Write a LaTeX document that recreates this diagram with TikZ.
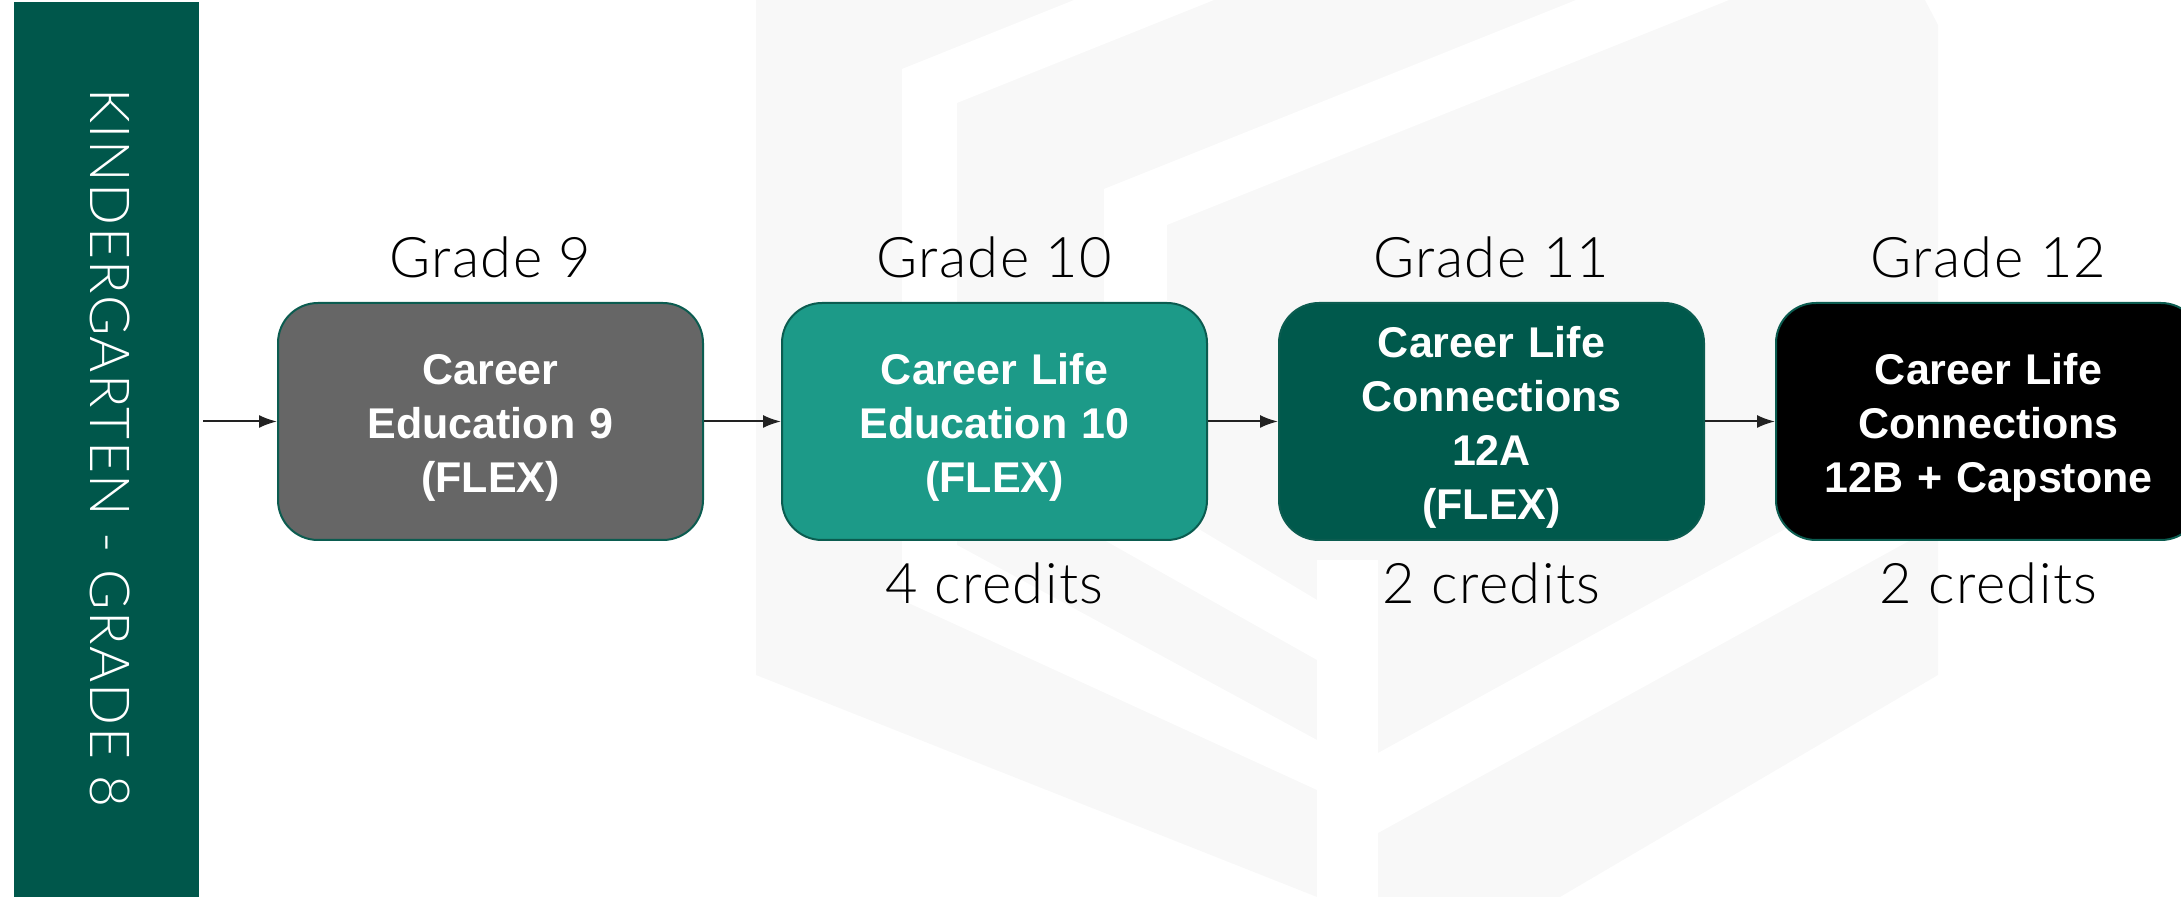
\documentclass[tikz,border=0pt]{standalone}
\usepackage{fontspec}
\setmainfont{Liberation Sans}
\newfontfamily\lightfont{Lato Light}[LetterSpace=2.5]
\usetikzlibrary{positioning}
\usetikzlibrary{arrows.meta}
\tikzset{>={Latex[width=6.5pt,length=9pt]}}
\definecolor{barGreen}{HTML}{00574B}
\definecolor{edgeGreen}{HTML}{0B5C50}
\definecolor{nineGray}{HTML}{666666}
\definecolor{tenTeal}{HTML}{1C9A88}
\definecolor{elevenGreen}{HTML}{00594C}
\definecolor{wmGray}{HTML}{F8F8F8}
\definecolor{arrowGray}{HTML}{222222}

\begin{document}
\begin{tikzpicture}[x=0.5pt, y=-0.5pt,
    course/.style={rounded corners=20pt, draw=edgeGreen, line width=1pt, minimum width=212.5pt, minimum height=118.5pt, text width=200pt, inner ysep=2pt, align=center, text=white, font=\bfseries\fontsize{21.5}{27}\selectfont, execute at begin node={\rule{0pt}{21.5pt}}},
    grade/.style={inner sep=0pt, font=\lightfont\fontsize{28}{31}\selectfont},
    credits/.style={inner sep=0pt, font=\lightfont\fontsize{28}{31}\selectfont},
    flow/.style={->, line width=1pt, draw=arrowGray, fill=arrowGray} ]

    \useasboundingbox (0,0) rectangle (2181,897);

    %Watermark
    \fill[wmGray] (756,0) -- (1925,0) -- (1938,25) -- (1938,675) -- (1560,897) -- (1317,897) -- (756,675) -- cycle;
    \fill[white] (902,69) -- (1074,0) -- (1214,0) -- (957,103) -- (957,545) -- (1317,740) -- (1317,790) -- (902,600) -- cycle;
    \fill[white] (1104,189) -- (1576,0) -- (1729,0) -- (1167,225) -- (1167,510) -- (1317,600) -- (1317,660) -- (1104,540) -- cycle;
    \fill[white] (1317,560) -- (1378,560) -- (1378,897) -- (1317,897) -- cycle;
    \fill[white] (1378,753) -- (1938,445) -- (1938,525) -- (1378,833) -- cycle;

    %Nodes
    \node[fill=barGreen, minimum width=92.5pt, minimum height=449pt, inner sep=0pt] (kbar) at (106.5,451) {};
    \node[rotate=-90, text=white, font=\lightfont\fontsize{27.6}{31}\selectfont] (kbar_text) at (110,448) {KINDERGARTEN - GRADE 8};
    \node[course, fill=nineGray] (ce9) at (490.5,421.5) {Career\\Education 9\\(FLEX)};
    \node[course, fill=tenTeal] (cle10) [right=38.5pt of ce9] {Career Life\\Education 10\\(FLEX)};
    \node[course, fill=elevenGreen] (clc12a) [right=35pt of cle10] {Career Life\\Connections\\12A\\(FLEX)};
    \node[course, fill=black] (clc12b) [right=35pt of clc12a] {Career Life\\Connections\\12B + Capstone};
    \node[grade] (grade9) [above=12pt of ce9] {Grade 9};
    \node[grade] (grade10) [above=12pt of cle10] {Grade 10};
    \node[grade] (grade11) [above=12pt of clc12a] {Grade 11};
    \node[grade] (grade12) [above=12pt of clc12b] {Grade 12};
    \node[credits] (credits10) [below=10.5pt of cle10] {4 credits};
    \node[credits] (credits11) [below=10.5pt of clc12a] {2 credits};
    \node[credits] (credits12) [below=10.5pt of clc12b] {2 credits};

    %Lines
    \draw[flow, shorten <=2pt] (kbar.east |- ce9.west) -- (ce9.west);
    \draw[flow] (ce9) -- (cle10);
    \draw[flow] (cle10) -- (clc12a);
    \draw[flow] (clc12a) -- (clc12b);
\end{tikzpicture}
\end{document}
